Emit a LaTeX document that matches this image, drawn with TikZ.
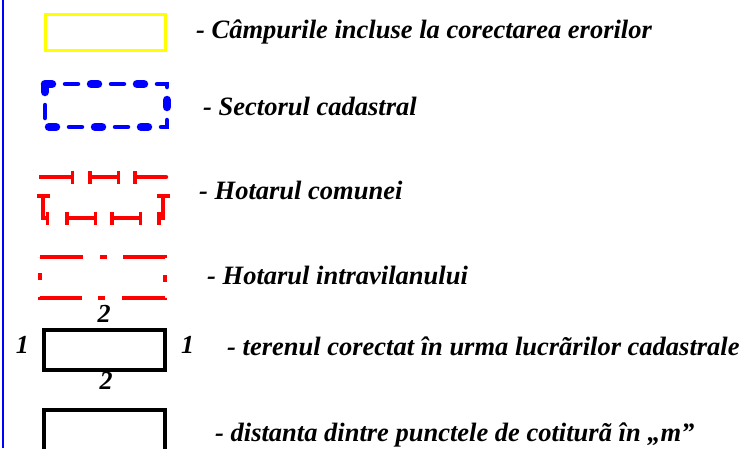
\documentclass[tikz,border=0pt]{standalone}
\usepackage{fontspec}
\setmainfont{Liberation Serif}
\usetikzlibrary{arrows.meta}
\definecolor{ColA}{RGB}{255,255,0}
\definecolor{ColB}{RGB}{0,0,255}
\definecolor{ColC}{RGB}{255,0,0}
\tikzstyle{LegendText}=[anchor=base west,inner sep=0pt,font=\bfseries\itshape\fontsize{26.5}{30}\selectfont]
\tikzstyle{LabelNum}=[anchor=base,inner sep=0pt,font=\bfseries\itshape\fontsize{26}{28}\selectfont]
\tikzstyle{BoxYellow}=[draw=ColA,line width=3.5pt,minimum width=120pt,minimum height=36pt]
\tikzstyle{BoxBlack}=[draw=black,line width=4pt]
\tikzstyle{SectorThin}=[ColB,line width=4.5pt,line cap=round,dash pattern=on 13pt off 33pt,dash phase=26pt]
\tikzstyle{SectorDot}=[ColB,line width=8.5pt,line cap=round,dash pattern=on 7pt off 39pt]
\tikzstyle{HotarCom}=[ColC,line width=4.5pt,>={Bar[width=13pt,line width=3.5pt]}]
\tikzstyle{HotarIntra}=[ColC,line width=4pt,dash pattern=on 43pt off 17pt on 7pt off 16pt]

\begin{document}
\begin{tikzpicture}[x=1pt,y=-1pt]
        \useasboundingbox(0,0)rectangle(747,448);
        \clip(0,0)rectangle(747,448);
        \draw[ColB,line width=2.5pt](3,0)--(3,448);
        % legend symbols
        \node[BoxYellow](yel)at(105.5,32.5){};
        \draw[SectorThin](45,84)--(167,84)--(167,127)--(45,127)--cycle;
        \draw[SectorDot](45,84)--(167,84)--(167,127)--(45,127)--cycle;
        \draw[HotarCom,->](39,177)--(74,177);
        \draw[HotarCom,<->](88,177)--(120,177);
        \draw[HotarCom,line cap=round,<-](133,177)--(166,177);
        \draw[HotarCom,<->](43,194)--(43,218)--(49,218);
        \draw[HotarCom,<->](65,218)--(97,218);
        \draw[HotarCom,<->](110,218)--(142,218);
        \draw[HotarCom,<->](157,218)--(163,218)--(163,194);
        \draw[HotarIntra](40,257)--(165,257)--(165,298)--(40,298)--cycle;
        \draw[BoxBlack](43.5,329.5)rectangle(164.5,369.5);
        \draw[BoxBlack](43.5,409.5)rectangle(164.5,470);
        % numbers round the parcel
        \node[LabelNum](nTop)at(104,322){2};
        \node[LabelNum](nBot)at(106,389){2};
        \node[LabelNum](nLeft)at(22.5,353){1};
        \node[LabelNum](nRight)at(187.5,353){1};
        % legend texts
        \node[LegendText](tCamp)at(196,38){- Câmpurile incluse la corectarea erorilor};
        \node[LegendText](tSect)at(203,115){- Sectorul cadastral};
        \node[LegendText](tHCom)at(199,199){- Hotarul comunei};
        \node[LegendText](tHIntra)at(207,284){- Hotarul intravilanului};
        \node[LegendText](tTeren)at(227,355){- terenul corectat în urma lucrãrilor cadastrale};
        \node[LegendText](tDist)at(215,441){- distanta dintre punctele de cotiturã în „m”};
\end{tikzpicture}
\end{document}
